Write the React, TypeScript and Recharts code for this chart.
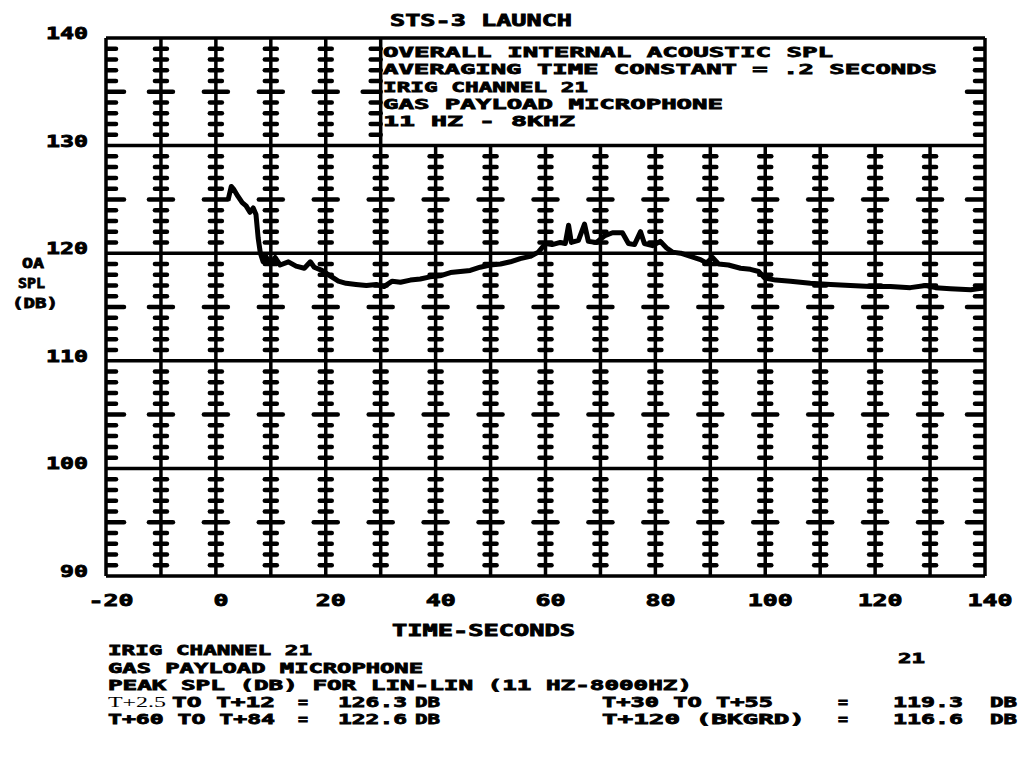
// STS-3 launch, overall internal acoustic SPL, gas payload microphone.
// Plotter-style chart: thick grid with dB tick marks on every time line.

import { ComposedChart, Line, Scatter, XAxis, YAxis, ReferenceLine } from 'recharts';

const TIME_S = [
  2.2, 2.8, 3.3, 4.0, 4.8, 5.5, 6.2, 6.8, 7.3, 7.7, 8.1, 8.6, 9.1, 9.9, 10.8, 11.7,
  13.2, 14.6, 16.1, 17.2, 17.9, 19.3, 20.8, 22.3, 23.7, 25.5, 27.4, 29.2, 30.6, 32.1,
  33.6, 35.4, 37.2, 39.0, 40.8, 42.7, 44.5, 46.3, 48.1, 49.9, 51.8, 53.6, 55.4, 57.2,
  58.7, 60.0, 61.2, 62.7, 63.6, 64.2, 64.7, 66.0, 67.1, 67.8, 69.3, 70.7, 72.2, 74.0,
  75.1, 76.2, 77.3, 78.0, 79.5, 80.9, 82.0, 83.1, 84.6, 86.4, 88.2, 89.3, 90.4, 91.5,
  93.3, 95.5, 97.3, 98.8, 99.9, 101.9, 104.6, 108.2, 111.9, 115.5, 119.2, 122.8, 126.4,
  129.2, 131.0, 133.7, 137.4, 140.0,
];
const SPL_DB = [
  124.9, 126.2, 125.9, 125.3, 124.7, 124.4, 123.8, 124.2, 123.6, 121.4, 120.0, 119.2, 119.7, 119.0, 119.6, 118.9,
  119.2, 118.8, 118.6, 119.2, 118.7, 118.4, 117.9, 117.4, 117.2, 117.1, 117.0, 117.1, 116.9, 117.4,
  117.3, 117.5, 117.6, 117.8, 117.9, 118.2, 118.3, 118.4, 118.7, 118.9, 119.0, 119.2, 119.5, 119.7,
  120.1, 120.9, 120.8, 121.0, 120.9, 122.6, 121.0, 121.2, 122.7, 121.1, 121.0, 121.6, 121.9, 121.9,
  120.9, 120.8, 122.0, 120.9, 120.7, 121.1, 120.5, 120.1, 120.0, 119.7, 119.4, 119.1, 119.6, 119.0,
  118.9, 118.6, 118.5, 118.3, 117.7, 117.5, 117.4, 117.2, 117.1, 117.0, 116.9, 116.9, 116.8,
  117.0, 116.8, 116.7, 116.6, 116.8,
];

const X_TICKS = [-20, 0, 20, 40, 60, 80, 100, 120, 140];
const Y_TICKS = [90, 100, 110, 120, 130, 140];
const GRID_X = [-10, 0, 10, 20, 30, 40, 50, 60, 70, 80, 90, 100, 110, 120, 130];
const GRID_Y = [100, 110, 120, 130];
// time lines right of this stop at 130 dB: the header box sits above them
const BOX_LEFT = 30;

const TITLE = 'STS-3 LAUNCH';
const BOX_LINES = [
  'OVERALL INTERNAL ACOUSTIC SPL',
  'AVERAGING TIME CONSTANT = .2 SECONDS',
  'IRIG CHANNEL 21',
  'GAS PAYLOAD MICROPHONE',
  '11 HZ - 8KHZ',
];

const W = 1025;
const H = 757;
const PLOT_LEFT = 106;
const PLOT_BOTTOM = 576;
const FONT = '"DejaVu Sans Mono", monospace';

const curve = TIME_S.map((t, i) => ({ t, db: SPL_DB[i] }));

type Mark = { t: number; v: number; side: 'both' | 'left' | 'right'; major: boolean };
const marks: Mark[] = [];
for (let v = 91; v < 140; v++) {
  if (v % 10 === 0) continue;
  const major = v % 5 === 0;
  marks.push({ t: -20, v, side: 'right', major });
  marks.push({ t: 140, v, side: 'left', major });
  for (const t of GRID_X) {
    if (v > 130 && t > BOX_LEFT) continue;
    marks.push({ t, v, side: v > 130 && t === BOX_LEFT ? 'left' : 'both', major });
  }
}

function TickMark(props: any) {
  const { cx, cy, payload } = props;
  if (cx == null || cy == null) return <g />;
  let x1 = cx;
  let x2 = cx;
  if (payload.side === 'both') {
    const half = payload.major ? 12 : 6;
    x1 = cx - half;
    x2 = cx + half;
  } else {
    const len = payload.major ? 18 : 10;
    if (payload.side === 'right') x2 = cx + len;
    else x1 = cx - len;
  }
  return <line x1={x1} y1={cy} x2={x2} y2={cy} stroke="#000" strokeWidth={4.5} strokeLinecap="round" />;
}

// plotter lettering: stretched to the measured width, thickened with a stroke
function Txt({ x, y, w, s = 14.5, serif = false, children }: any) {
  return (
    <text
      x={x}
      y={y}
      textLength={w}
      lengthAdjust="spacingAndGlyphs"
      fontSize={s}
      fontFamily={serif ? '"Liberation Serif", serif' : FONT}
      fontWeight={serif ? 'normal' : 'bold'}
      fill="#000"
      stroke={serif ? 'none' : '#000'}
      strokeWidth={0.8}
    >
      {children}
    </text>
  );
}

function XTick(props: any) {
  const { x, payload } = props;
  const label = String(payload.value);
  return <Txt x={x - label.length * 7.5 + 5} y={PLOT_BOTTOM + 30} w={label.length * 15} s={16}>{label}</Txt>;
}

function YTick(props: any) {
  const { y, payload } = props;
  const label = String(payload.value);
  const w = label.length * 14;
  return <Txt x={PLOT_LEFT - 18 - w} y={y + 1} w={w} s={16}>{label}</Txt>;
}

export default function App() {
  const lineStyle = { stroke: '#000', strokeWidth: 3.5 };
  return (
    <div style={{ position: 'absolute', left: 0, top: 0, width: W, height: H, background: '#fff' }}>
      <ComposedChart width={W} height={H} margin={{ top: 38, right: 40, bottom: 141, left: 16 }}>
        <XAxis
          type="number"
          dataKey="t"
          domain={[-20, 140]}
          ticks={X_TICKS}
          axisLine={false}
          tickLine={false}
          height={40}
          tick={<XTick />}
          allowDataOverflow
        />
        <YAxis
          type="number"
          domain={[90, 140]}
          ticks={Y_TICKS}
          axisLine={false}
          tickLine={false}
          width={90}
          tick={<YTick />}
          allowDataOverflow
        />
        {GRID_Y.map((v) => (
          <ReferenceLine key={`h${v}`} y={v} {...lineStyle} />
        ))}
        {GRID_X.map((t) =>
          t > BOX_LEFT ? (
            <ReferenceLine key={`v${t}`} segment={[{ x: t, y: 90 }, { x: t, y: 130 }]} {...lineStyle} />
          ) : (
            <ReferenceLine key={`v${t}`} x={t} {...lineStyle} />
          ),
        )}
        <ReferenceLine x={-20} {...lineStyle} />
        <ReferenceLine x={140} {...lineStyle} />
        <ReferenceLine y={90} {...lineStyle} />
        <ReferenceLine y={140} {...lineStyle} />
        <Scatter data={marks} dataKey="v" shape={<TickMark />} isAnimationActive={false} />
        <Line
          data={curve}
          dataKey="db"
          type="linear"
          stroke="#000"
          strokeWidth={5}
          strokeLinejoin="round"
          dot={false}
          isAnimationActive={false}
        />
      </ComposedChart>

      <svg width={W} height={H} style={{ position: 'absolute', left: 0, top: 0, pointerEvents: 'none' }}>
        <Txt x={390} y={26} w={182} s={16}>{TITLE}</Txt>
        {BOX_LINES.map((s, i) => (
          <Txt key={s} x={383} y={57 + i * 17.3} w={[450, 554, 205, 340, 192][i]}>{s}</Txt>
        ))}

        <Txt x={22} y={268} w={22}>OA</Txt>
        <Txt x={18} y={288} w={27}>SPL</Txt>
        <Txt x={12} y={308} w={46}>(DB)</Txt>

        <Txt x={392} y={636} w={183} s={16}>TIME-SECONDS</Txt>

        <Txt x={108} y={655} w={204}>IRIG CHANNEL 21</Txt>
        <Txt x={898} y={663} w={27}>21</Txt>
        <Txt x={108} y={673} w={315}>GAS PAYLOAD MICROPHONE</Txt>
        <Txt x={108} y={690} w={584}>PEAK SPL (DB) FOR LIN-LIN (11 HZ-8000HZ)</Txt>

        <Txt x={108} y={707} w={58} serif>T+2.5</Txt>
        <Txt x={172} y={707} w={103}>TO T+12</Txt>
        <Txt x={298} y={707} w={10}>=</Txt>
        <Txt x={338} y={707} w={69}>126.3</Txt>
        <Txt x={415} y={707} w={25}>DB</Txt>

        <Txt x={108} y={724} w={167}>T+60 TO T+84</Txt>
        <Txt x={298} y={724} w={10}>=</Txt>
        <Txt x={338} y={724} w={69}>122.6</Txt>
        <Txt x={415} y={724} w={25}>DB</Txt>

        <Txt x={602} y={707} w={171}>T+30 TO T+55</Txt>
        <Txt x={838} y={707} w={10}>=</Txt>
        <Txt x={893} y={707} w={70}>119.3</Txt>
        <Txt x={990} y={707} w={27}>DB</Txt>

        <Txt x={602} y={724} w={203}>T+120 (BKGRD)</Txt>
        <Txt x={838} y={724} w={10}>=</Txt>
        <Txt x={893} y={724} w={70}>116.6</Txt>
        <Txt x={990} y={724} w={27}>DB</Txt>
      </svg>
    </div>
  );
}
